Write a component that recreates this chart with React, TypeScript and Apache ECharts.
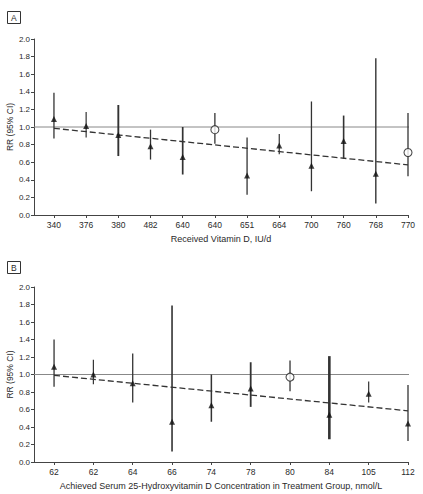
import { useEffect, useRef } from "react";
import * as echarts from "echarts";

// Panel A: received vitamin D dose
const catsA = ["340", "376", "380", "482", "640", "640", "651", "664", "700", "760", "768", "770"];
const rrA = [1.09, 1.01, 0.91, 0.78, 0.66, 0.97, 0.45, 0.79, 0.56, 0.84, 0.47, 0.71];
const loA = [0.87, 0.88, 0.67, 0.63, 0.46, 0.81, 0.23, 0.69, 0.27, 0.64, 0.13, 0.44];
const hiA = [1.39, 1.17, 1.25, 0.97, 1.0, 1.16, 0.88, 0.92, 1.29, 1.13, 1.78, 1.16];
const openA = [5, 11];
const trendA = [0.985, 0.57];

// Panel B: achieved serum 25(OH)D
const catsB = ["62", "62", "64", "66", "74", "78", "80", "84", "105", "112"];
const rrB = [1.09, 1.0, 0.9, 0.46, 0.65, 0.84, 0.97, 0.54, 0.78, 0.44];
const loB = [0.86, 0.89, 0.68, 0.12, 0.46, 0.63, 0.81, 0.26, 0.68, 0.24];
const hiB = [1.4, 1.17, 1.24, 1.79, 1.0, 1.14, 1.16, 1.21, 0.92, 0.88];
const openB = [6];
const trendB = [0.99, 0.585];

// bar line widths (thicker = heavier study)
const widthA = [1.3, 1.2, 1.9, 1.3, 1.7, 1.3, 1.3, 1.2, 1.3, 1.6, 1.4, 1.3];
const widthB = [1.3, 1.2, 1.3, 1.6, 1.5, 1.8, 1.3, 2.6, 1.2, 1.3];

const FONT = "'Liberation Sans Narrow', 'Liberation Sans', Arial, sans-serif";
const INK = "#2a2a2a";

function buildPanel(
  idx: number,
  cats: string[],
  rr: number[],
  lo: number[],
  hi: number[],
  open: number[],
  trend: number[],
  widths: number[],
  xMin: number,
  xName: string
) {
  const last = cats.length - 1;
  const xAxis = {
    type: "value",
    gridIndex: idx,
    min: xMin,
    max: last,
    name: xName,
    nameLocation: "middle",
    nameGap: 19,
    nameMoveOverlap: false,
    nameTextStyle: { fontFamily: FONT, fontSize: 9, color: INK },
    axisLine: { show: true, onZero: false, lineStyle: { color: "#444", width: 1 } },
    axisTick: { show: true, length: 3, customValues: cats.map((_, i) => i), lineStyle: { color: "#444" } },
    axisLabel: {
      customValues: cats.map((_, i) => i),
      formatter: (v: number) => cats[Math.round(v)] ?? "",
      fontFamily: FONT,
      fontSize: 8.5,
      color: INK,
      margin: 5,
    },
    splitLine: { show: false },
  };
  const yAxis = {
    type: "value",
    gridIndex: idx,
    min: 0,
    max: 2,
    interval: 0.2,
    name: "RR (95% CI)",
    nameLocation: "middle",
    nameGap: 20,
    nameMoveOverlap: false,
    nameRotate: 90,
    nameTextStyle: { fontFamily: FONT, fontSize: 8.5, color: INK },
    axisLine: { show: true, onZero: false, lineStyle: { color: "#444", width: 1 } },
    axisTick: { show: true, length: 3, lineStyle: { color: "#444" } },
    axisLabel: {
      formatter: (v: number) => v.toFixed(1),
      fontFamily: FONT,
      fontSize: 8,
      color: INK,
      margin: 4,
      showMinLabel: true,
      showMaxLabel: true,
    },
    splitLine: { show: false },
  };
  const refLine = {
    type: "line",
    xAxisIndex: idx,
    yAxisIndex: idx,
    clip: false,
    symbol: "none",
    silent: true,
    lineStyle: { color: "#888", width: 1 },
    data: [
      [xMin, 1],
      [last + 0.18, 1],
    ],
    z: 1,
  };
  const bars = {
    type: "custom",
    xAxisIndex: idx,
    yAxisIndex: idx,
    data: cats.map((_, i) => [i, lo[i], hi[i]]),
    encode: { x: 0, y: [1, 2] },
    renderItem: (params: any, api: any) => {
      const i = api.value(0);
      const p1 = api.coord([i, api.value(1)]);
      const p2 = api.coord([i, api.value(2)]);
      return {
        type: "line",
        shape: { x1: p1[0], y1: p1[1], x2: p2[0], y2: p2[1] },
        style: { stroke: "#333", lineWidth: widths[params.dataIndex] },
      };
    },
    z: 2,
  };
  const trendLine = {
    type: "line",
    xAxisIndex: idx,
    yAxisIndex: idx,
    symbol: "none",
    silent: true,
    lineStyle: { color: "#333", width: 1.3, type: [6, 3] },
    data: [
      [0, trend[0]],
      [last, trend[1]],
    ],
    z: 3,
  };
  const tri = {
    type: "scatter",
    xAxisIndex: idx,
    yAxisIndex: idx,
    symbol: "triangle",
    symbolSize: [6, 6],
    itemStyle: { color: "#111" },
    data: rr.map((v, i) => [i, v]).filter((_, i) => !open.includes(i)),
    z: 4,
  };
  const circ = {
    type: "scatter",
    xAxisIndex: idx,
    yAxisIndex: idx,
    symbol: "circle",
    symbolSize: 8,
    itemStyle: { color: "#fff", borderColor: "#222", borderWidth: 1.1 },
    data: rr.map((v, i) => [i, v]).filter((_, i) => open.includes(i)),
    z: 5,
  };
  return { xAxis, yAxis, series: [refLine, bars, trendLine, tri, circ] };
}

export default function App() {
  const ref = useRef<HTMLDivElement | null>(null);

  useEffect(() => {
    if (!ref.current) return;
    const chart = echarts.init(ref.current, undefined, { renderer: "svg" });

    const a = buildPanel(0, catsA, rrA, loA, hiA, openA, trendA, widthA, -0.62, "Received Vitamin D, IU/d");
    const b = buildPanel(
      1,
      catsB,
      rrB,
      loB,
      hiB,
      openB,
      trendB,
      widthB,
      -0.51,
      "Achieved Serum 25-Hydroxyvitamin D Concentration in Treatment Group, nmol/L"
    );

    const boxTitle = (text: string, top: number) => ({
      text,
      left: 7,
      top,
      padding: [2, 4, 2, 4],
      borderWidth: 1,
      borderColor: "#333",
      textStyle: { fontFamily: FONT, fontSize: 8.5, fontWeight: "normal", color: INK },
    });

    chart.setOption({
      animation: false,
      backgroundColor: "#fff",
      title: [boxTitle("A", 11), boxTitle("B", 261)],
      grid: [
        { left: 34, top: 39, width: 374, height: 176, containLabel: false, outerBoundsMode: "none" },
        { left: 34, top: 287, width: 374, height: 175, containLabel: false, outerBoundsMode: "none" },
      ],
      xAxis: [a.xAxis, b.xAxis],
      yAxis: [a.yAxis, b.yAxis],
      series: [...a.series, ...b.series],
    });

    return () => chart.dispose();
  }, []);

  return <div ref={ref} style={{ position: "fixed", left: 0, top: 0, width: 423, height: 494 }} />;
}
